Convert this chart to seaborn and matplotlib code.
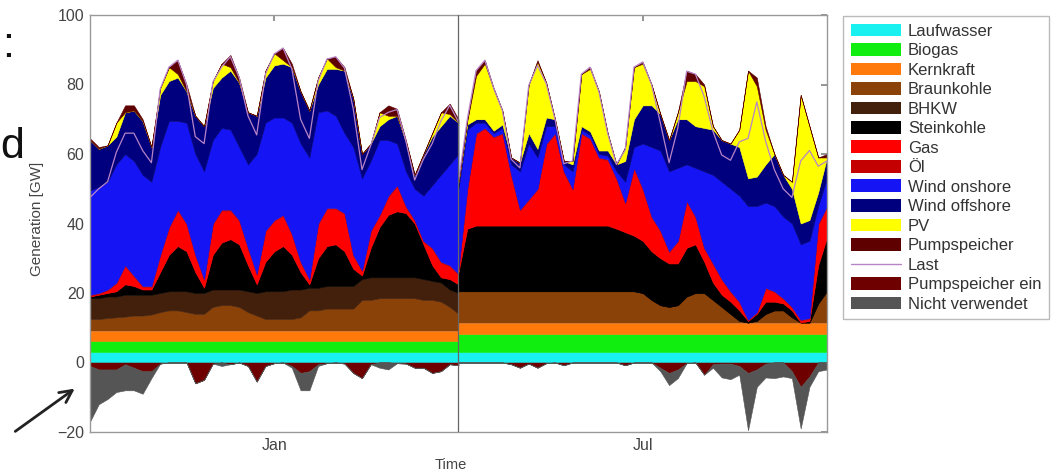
import matplotlib
matplotlib.use("Agg")
import matplotlib.pyplot as plt
import numpy as np
import pandas as pd
import seaborn as sns
from matplotlib.lines import Line2D
from matplotlib.patches import FancyArrowPatch, Patch

W, H, DPI = 1056, 470, 100

# 4-hour steps over one week, Jan week left, Jul week right
hours = np.arange(0, 169, 4)

# ---- January week [GW] ----
lauf_jan = [3.0, 3.0, 3.0, 3.0, 3.0, 3.0, 3.0, 3.0, 3.0, 3.0,
            3.0, 3.0, 3.0, 3.0, 3.0, 3.0, 3.0, 3.0, 3.0, 3.0,
            3.0, 3.0, 3.0, 3.0, 3.0, 3.0, 3.0, 3.0, 3.0, 3.0,
            3.0, 3.0, 3.0, 3.0, 3.0, 3.0, 3.0, 3.0, 3.0, 3.0,
            3.0, 3.0, 3.0]
bio_jan = [3.1, 3.1, 3.1, 3.1, 3.1, 3.1, 3.1, 3.1, 3.1, 3.1,
           3.1, 3.1, 3.1, 3.1, 3.1, 3.1, 3.1, 3.1, 3.1, 3.1,
           3.1, 3.1, 3.1, 3.1, 3.1, 3.1, 3.1, 3.1, 3.1, 3.1,
           3.1, 3.1, 3.1, 3.1, 3.1, 3.1, 3.1, 3.1, 3.1, 3.1,
           3.1, 3.1, 3.1]
kern_jan = [3.1, 3.1, 3.1, 3.1, 3.1, 3.1, 3.1, 3.1, 3.1, 3.1,
            3.1, 3.1, 3.1, 3.1, 3.1, 3.1, 3.1, 3.1, 3.1, 3.1,
            3.1, 3.1, 3.1, 3.1, 3.1, 3.1, 3.1, 3.1, 3.1, 3.1,
            3.1, 3.1, 3.1, 3.1, 3.1, 3.1, 3.1, 3.1, 3.1, 3.1,
            3.1, 3.1, 3.1]
braun_jan = [3.3, 3.3, 3.6, 3.8, 4.0, 4.3, 4.3, 4.6, 5.3, 5.8,
             5.8, 5.3, 4.8, 4.8, 6.8, 7.3, 7.3, 6.8, 5.3, 4.3,
             3.3, 3.3, 3.3, 3.3, 3.8, 5.8, 5.8, 6.3, 6.3, 6.3,
             6.3, 8.8, 8.8, 9.3, 9.3, 9.3, 9.3, 9.3, 8.8, 8.8,
             8.3, 6.8, 4.8]
bhkw_jan = [6.0, 6.0, 6.2, 6.0, 6.3, 6.0, 6.0, 5.7, 5.5, 5.5,
            5.5, 6.0, 6.0, 6.0, 5.0, 4.5, 4.5, 5.0, 6.0, 6.5,
            8.0, 8.0, 8.0, 8.5, 8.0, 6.5, 6.5, 6.5, 6.5, 6.5,
            6.5, 6.0, 6.5, 6.0, 6.0, 6.0, 6.0, 6.0, 6.0, 5.5,
            5.5, 5.0, 6.0]
stein_jan = [0.5, 1.0, 1.0, 1.5, 3.0, 2.5, 1.5, 1.5, 6.0, 10.5,
             13.0, 11.5, 6.0, 1.5, 10.0, 13.5, 14.5, 13.0, 7.5, 2.5,
             8.5, 11.5, 13.0, 10.0, 5.0, 1.0, 8.5, 11.5, 12.0, 10.0,
             5.0, 1.0, 8.5, 14.5, 18.0, 19.0, 18.5, 15.5, 10.0, 4.5,
             1.5, 3.0, 2.5]
gas_jan = [0.2, 0.2, 0.7, 2.2, 5.2, 2.7, 0.7, 0.7, 4.7, 7.7,
           10.2, 7.7, 4.7, 2.2, 8.7, 9.2, 8.2, 6.7, 4.7, 2.7,
           8.7, 8.7, 8.7, 5.7, 2.7, 1.2, 9.7, 10.7, 10.2, 10.7,
           3.7, 1.2, 4.7, 3.2, 5.2, 7.2, 1.7, 0.7, 0.7, 4.7,
           4.2, 3.7, 2.7]
oel_jan = [0.3, 0.3, 0.3, 0.3, 0.3, 0.3, 0.3, 0.3, 0.3, 0.3,
           0.3, 0.3, 0.3, 0.3, 0.3, 0.3, 0.3, 0.3, 0.3, 0.3,
           0.3, 0.3, 0.3, 0.3, 0.3, 0.3, 0.3, 0.3, 0.3, 0.3,
           0.3, 0.3, 0.3, 0.3, 0.3, 0.3, 0.3, 0.3, 0.3, 0.3,
           0.3, 0.3, 0.3]
wind_on_jan = [30.0, 30.5, 31.0, 34.0, 32.0, 33.0, 32.0, 30.0, 31.0, 30.5,
               25.5, 29.0, 29.0, 31.0, 24.0, 23.5, 23.0, 21.0, 24.0, 34.5,
               31.0, 29.5, 28.0, 32.0, 34.0, 35.0, 32.0, 28.0, 26.5, 23.0,
               31.0, 26.5, 20.0, 21.5, 16.0, 12.0, 10.0, 9.0, 13.0, 18.0,
               25.0, 29.0, 34.5]
wind_off_jan = [14.5, 11.0, 10.5, 8.0, 12.0, 14.5, 15.5, 10.0, 15.0, 11.5,
                12.5, 9.0, 11.0, 13.0, 15.0, 14.5, 17.0, 18.5, 15.0, 11.0,
                13.0, 15.0, 15.5, 16.0, 15.0, 13.5, 8.0, 12.0, 13.5, 18.0,
                14.0, 7.0, 5.0, 4.0, 6.0, 8.0, 8.5, 4.0, 12.0, 14.0,
                14.0, 14.0, 9.0]
pv_jan = [0, 0, 0, 4.0, 0, 0, 0, 0, 2.0, 4.0,
          1.0, 0, 0, 0, 2.0, 4.0, 1.0, 0, 0, 0,
          2.0, 3.5, 1.0, 0, 0, 0, 2.0, 3.0, 0.5, 0,
          0, 0, 0, 4.0, 1.0, 0, 0, 0, 0, 1.0,
          4.0, 0.5, 0]
pump_jan = [0.5, 0.5, 0, 0, 2.0, 1.5, 0.5, 0, 0, 0,
            4.0, 2.0, 0, 0, 0, 0, 3.5, 1.5, 0, 0,
            0, 0, 3.5, 1.0, 0, 0, 0, 0, 3.0, 1.0,
            0, 0, 0, 0, 3.0, 2.0, 0.5, 0, 0, 0,
            0, 3.0, 1.0]
last_jan = [47.5, 50.0, 52.0, 60.5, 66.0, 66.0, 61.0, 57.5, 78.7, 85.0,
            87.0, 80.0, 65.0, 63.0, 80.7, 85.0, 88.0, 82.0, 71.0, 65.5,
            83.0, 88.8, 90.5, 84.5, 70.0, 64.5, 81.0, 87.3, 88.0, 84.7,
            73.0, 55.5, 62.5, 70.5, 72.0, 72.8, 63.7, 52.5, 58.5, 63.0,
            69.5, 74.0, 69.2]
pump_ein_jan = [1.0, 2.0, 2.0, 2.0, 0.5, 1.5, 2.5, 2.5, 0.3, 0,
                0, 0, 6.0, 5.0, 0.3, 0, 0.5, 0, 1.0, 5.5,
                1.0, 0.2, 0, 1.0, 3.0, 2.5, 0.5, 0.2, 0, 0.3,
                3.0, 4.5, 0.5, 0, 0, 0.2, 0.3, 1.5, 1.5, 3.0,
                2.5, 0.5, 0.8]
nicht_jan = [16.0, 10.0, 8.5, 6.5, 7.5, 6.5, 6.5, 2.0, 0, 0,
             0, 0, 0, 0, 0, 1.0, 0, 0, 0, 0,
             0, 0, 0, 0.5, 5.0, 5.5, 0.5, 0, 0, 0,
             0, 0, 0, 1.5, 2.0, 0, 0, 0, 0, 0,
             0, 0, 0]

# ---- July week [GW] ----
lauf_jul = [3.0, 3.0, 3.0, 3.0, 3.0, 3.0, 3.0, 3.0, 3.0, 3.0,
            3.0, 3.0, 3.0, 3.0, 3.0, 3.0, 3.0, 3.0, 3.0, 3.0,
            3.0, 3.0, 3.0, 3.0, 3.0, 3.0, 3.0, 3.0, 3.0, 3.0,
            3.0, 3.0, 3.0, 3.0, 3.0, 3.0, 3.0, 3.0, 3.0, 3.0,
            3.0, 3.0, 3.0]
bio_jul = [5.2, 5.2, 5.2, 5.2, 5.2, 5.2, 5.2, 5.2, 5.2, 5.2,
           5.2, 5.2, 5.2, 5.2, 5.2, 5.2, 5.2, 5.2, 5.2, 5.2,
           5.2, 5.2, 5.2, 5.2, 5.2, 5.2, 5.2, 5.2, 5.2, 5.2,
           5.2, 5.2, 5.2, 5.2, 5.2, 5.2, 5.2, 5.2, 5.2, 5.2,
           5.2, 5.2, 5.2]
kern_jul = [3.3, 3.3, 3.3, 3.3, 3.3, 3.3, 3.3, 3.3, 3.3, 3.3,
            3.3, 3.3, 3.3, 3.3, 3.3, 3.3, 3.3, 3.3, 3.3, 3.3,
            3.3, 3.3, 3.3, 3.3, 3.3, 3.3, 3.3, 3.3, 3.3, 3.3,
            3.3, 3.3, 3.3, 3.3, 3.3, 3.3, 3.3, 3.3, 3.3, 3.3,
            3.3, 3.3, 3.3]
braun_jul = [9.0, 9.0, 9.0, 9.0, 9.0, 9.0, 9.0, 9.0, 9.0, 9.0,
             9.0, 9.0, 9.0, 9.0, 9.0, 9.0, 9.0, 9.0, 9.0, 9.0,
             9.0, 8.5, 6.5, 5.0, 4.5, 5.0, 7.5, 8.5, 8.5, 6.5,
             4.5, 2.5, 0.5, 0.0, 0.5, 2.5, 3.5, 3.5, 1.5, 0.0,
             0.0, 5.5, 9.0]
bhkw_jul = [0, 0, 0, 0, 0, 0, 0, 0, 0, 0,
            0, 0, 0, 0, 0, 0, 0, 0, 0, 0,
            0, 0, 0, 0, 0, 0, 0, 0, 0, 0,
            0, 0, 0, 0, 0, 0, 0, 0, 0, 0,
            0, 0, 0]
stein_jul = [5.5, 18.0, 18.9, 18.9, 18.9, 18.9, 18.9, 18.9, 18.9, 18.9,
             18.9, 18.9, 18.9, 18.9, 18.9, 18.9, 18.9, 18.9, 18.0, 17.0,
             16.0, 15.0, 14.0, 13.5, 12.5, 12.0, 14.0, 14.0, 9.0, 5.0,
             3.5, 3.5, 3.0, 0.5, 2.0, 3.5, 2.5, 2.0, 2.0, 0.0,
             0.5, 11.0, 15.5]
gas_jul = [0.7, 11.2, 26.3, 27.8, 25.3, 26.3, 14.3, 4.3, 7.3, 10.3,
           23.3, 26.3, 15.3, 10.3, 26.3, 24.8, 19.3, 18.8, 14.2, 8.2,
           19.2, 14.7, 9.7, 7.7, 3.2, 6.2, 13.2, 7.7, 3.7, 5.2,
           4.2, 2.7, 2.2, 0.0, 0.2, 3.7, 2.7, 1.2, 0.7, 0.5,
           0.5, 11.7, 8.7]
oel_jul = [0.3, 0.3, 0.3, 0.3, 0.3, 0.3, 0.3, 0.3, 0.3, 0.3,
           0.3, 0.3, 0.3, 0.3, 0.3, 0.3, 0.3, 0.3, 0.3, 0.3,
           0.3, 0.3, 0.3, 0.3, 0.3, 0.3, 0.3, 0.3, 0.3, 0.3,
           0.3, 0.3, 0.3, 0.3, 0.3, 0.3, 0.3, 0.3, 0.3, 0.3,
           0.3, 0.3, 0.3]
wind_on_jul = [23.0, 17.0, 3.0, 1.5, 1.0, 1.5, 3.0, 11.0, 16.0, 9.0,
               5.0, 2.0, 2.0, 5.0, 1.0, 1.0, 1.0, 1.0, 2.0, 6.0,
               6.0, 13.0, 20.0, 23.0, 23.0, 21.0, 10.5, 14.0, 22.0, 25.5,
               28.0, 29.5, 30.5, 32.7, 30.5, 24.5, 24.5, 23.5, 24.0, 21.7,
               22.2, 5.0, 8.0]
wind_off_jul = [2.0, 1.5, 1.0, 1.0, 0.7, 1.0, 2.0, 2.5, 3.0, 2.5,
                2.5, 2.0, 1.0, 2.0, 1.0, 1.0, 1.0, 1.5, 2.0, 6.0,
                8.0, 11.0, 12.0, 10.5, 9.0, 14.0, 13.0, 12.0, 12.5, 13.0,
                12.0, 13.0, 14.0, 8.0, 8.5, 11.0, 15.0, 12.0, 10.0, 6.0,
                6.0, 4.0, 6.0]
pv_jul = [0, 1.0, 12.5, 16.0, 12.0, 4.0, 0, 0, 14.0, 25.0,
          10.0, 0, 0, 1.0, 15.0, 18.0, 17.0, 5.0, 0, 4.0,
          15.0, 12.0, 6.0, 0, 0, 2.0, 11.0, 13.0, 12.0, 1.0,
          0, 0, 5.0, 31.0, 26.0, 10.0, 0, 0, 2.0, 37.0,
          27.0, 10.0, 0]
pump_jul = [0, 0.5, 1.5, 1.0, 0.3, 0, 0, 0, 0, 0.5,
            0, 0, 0, 0, 0, 0.5, 0, 0, 0, 0,
            0, 0.5, 0, 0, 0, 0, 3.0, 2.0, 0.5, 0,
            0, 0, 0, 0, 2.5, 1.0, 0, 0, 0, 0,
            0, 0, 1.0]
last_jul = [52.0, 70.0, 84.0, 87.0, 79.0, 72.5, 58.5, 56.0, 79.7, 85.5,
            80.3, 70.0, 57.2, 58.0, 83.0, 85.0, 78.0, 66.0, 57.0, 61.2,
            85.0, 86.5, 80.0, 69.0, 57.5, 67.5, 83.8, 83.0, 76.5, 66.5,
            59.7, 58.2, 63.5, 64.5, 75.0, 63.7, 55.5, 50.0, 47.5, 58.0,
            61.0, 56.5, 58.0]
pump_ein_jul = [0, 0, 0, 0, 0, 0, 0.5, 1.5, 0.3, 1.5,
                0.2, 0, 0.8, 0, 0, 0, 0, 0, 0, 0.8,
                0, 0, 0, 1.5, 3.0, 2.0, 0.2, 0, 3.5, 0.5,
                0.3, 0.3, 1.0, 3.0, 2.0, 0.3, 0, 0, 2.5, 7.0,
                4.0, 0, 0]
nicht_jul = [0, 0, 0, 0, 0, 0, 0, 0, 0, 0,
             0, 0, 0, 0, 0, 0, 0, 0, 0, 0,
             0, 0, 0, 1.0, 3.5, 2.5, 0, 0, 0, 1.0,
             4.0, 4.5, 2.5, 16.5, 5.0, 4.0, 4.5, 4.0, 2.0, 12.0,
             3.0, 2.5, 2.0]

labels = ["Laufwasser", "Biogas", "Kernkraft", "Braunkohle", "BHKW",
          "Steinkohle", "Gas", "Öl", "Wind onshore", "Wind offshore",
          "PV", "Pumpspeicher"]
colors = ["#19F0F0", "#10EE10", "#FF7A0A", "#8A4208", "#43200C",
          "#000000", "#FF0000", "#C40000", "#1414F5", "#00007E",
          "#FFFF00", "#5E0000"]
LAST_COLOR = "#B884C8"
PUMP_EIN_COLOR = "#6E0000"
NICHT_COLOR = "#555555"

jan_stack = [lauf_jan, bio_jan, kern_jan, braun_jan, bhkw_jan, stein_jan,
             gas_jan, oel_jan, wind_on_jan, wind_off_jan, pv_jan, pump_jan]
jul_stack = [lauf_jul, bio_jul, kern_jul, braun_jul, bhkw_jul, stein_jul,
             gas_jul, oel_jul, wind_on_jul, wind_off_jul, pv_jul, pump_jul]

sns.set_theme(style="white")
plt.rcParams["font.family"] = ["Liberation Sans", "DejaVu Sans"]

fig = plt.figure(figsize=(W / DPI, H / DPI), dpi=DPI)
ax = fig.add_axes([90 / W, 1 - 432 / H, 737 / W, 417 / H])

for offset, stack, pe, nv in [(0, jan_stack, pump_ein_jan, nicht_jan),
                              (168, jul_stack, pump_ein_jul, nicht_jul)]:
    x = hours + offset
    polys = ax.stackplot(x, *stack, colors=colors, linewidth=0)
    for p, c in zip(polys, colors):
        p.set_edgecolor(c)
        p.set_linewidth(0.4)
    pe = np.array(pe)
    nv = np.array(nv)
    ax.fill_between(x, 0, -pe, color=PUMP_EIN_COLOR, lw=0.4)
    ax.fill_between(x, -pe, -pe - nv, color=NICHT_COLOR, lw=0.4)

last_df = pd.DataFrame({
    "hour": np.concatenate([hours, hours + 168]),
    "last": last_jan + last_jul,
    "week": ["Jan"] * len(hours) + ["Jul"] * len(hours),
})
sns.lineplot(data=last_df, x="hour", y="last", units="week", estimator=None,
             color=LAST_COLOR, lw=0.9, ax=ax, legend=False, zorder=5)

ax.axvline(168, color="#666666", lw=0.9, zorder=6)

ax.set_xlim(0, 336)
ax.set_ylim(-20, 100)
ax.set_xticks([84, 252], ["Jan", "Jul"])
ax.set_yticks([-20, 0, 20, 40, 60, 80, 100])
ax.tick_params(direction="in", top=True, right=True, length=4,
               color="#888888", labelcolor="#444444", labelsize=11.5, pad=4)
for s in ax.spines.values():
    s.set_color("#999999")
    s.set_linewidth(1)
ax.set_xlabel("Time", fontsize=10.5, color="#444444")
ax.set_ylabel("Generation [GW]", fontsize=11, color="#444444")
ax.xaxis.set_label_coords(0.49, -0.062)
ax.yaxis.set_label_coords(-0.062, 0.51)
ax.grid(False)

handles = [Patch(facecolor=c, edgecolor="none", label=l)
           for c, l in zip(colors, labels)]
handles.append(Line2D([], [], color=LAST_COLOR, lw=1, label="Last"))
handles.append(Patch(facecolor=PUMP_EIN_COLOR, edgecolor="none", label="Pumpspeicher ein"))
handles.append(Patch(facecolor=NICHT_COLOR, edgecolor="none", label="Nicht verwendet"))
leg = fig.legend(handles=handles, loc="upper left",
                 bbox_to_anchor=(843 / W, 1 - 16 / H), bbox_transform=fig.transFigure,
                 fontsize=12, frameon=True, fancybox=False, edgecolor="#aaaaaa",
                 handlelength=3.0, handleheight=0.8, handletextpad=0.45,
                 labelspacing=0.26, borderpad=0.45, borderaxespad=0)
leg.get_frame().set_linewidth(1)
for t in leg.get_texts():
    t.set_color("#333333")

# cut-off slide text and arrow at the left edge
fig.text(8.5 / W, 1 - 57 / H, ":", fontsize=31, ha="center", va="baseline", color="#111111")
fig.text(0.5 / W, 1 - 158 / H, "d", fontsize=31, ha="left", va="baseline", color="#111111")
fig.patches.append(FancyArrowPatch(
    (13, H - 433), (77, H - 387), transform=None, arrowstyle="->",
    mutation_scale=22, lw=2, color="#222222"))

fig.savefig("out.png", dpi=DPI)
